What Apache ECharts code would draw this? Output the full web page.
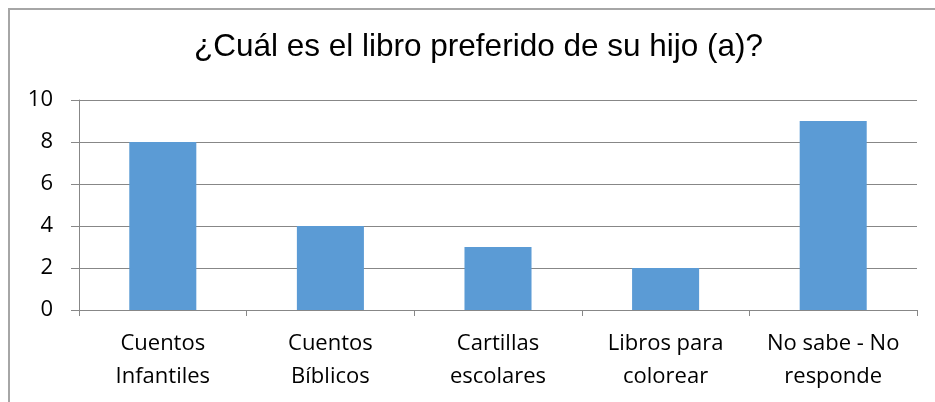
<!DOCTYPE html>
<html>
<head>
<meta charset="utf-8">
<script src="https://cdn.jsdelivr.net/npm/echarts@6/dist/echarts.min.js"></script>
<style>
  html, body { margin: 0; padding: 0; background: #fff; }
  #main { width: 935px; height: 402px; }
</style>
</head>
<body>
<div id="main"></div>
<script>
// datos del gráfico
var titulo = "¿Cuál es el libro preferido de su hijo (a)?";
var categorias = ["Cuentos\nInfantiles", "Cuentos\nBíblicos", "Cartillas\nescolares", "Libros para\ncolorear", "No sabe - No\nresponde"];
var valores = [8, 4, 3, 2, 9];
var ejeY = { min: 0, max: 10, interval: 2 };

var chart = echarts.init(document.getElementById("main"));

var option = {
  animation: false,
  title: {
    text: titulo,
    left: 189,
    top: 26,
    textStyle: {
      fontFamily: "Liberation Sans",
      fontSize: 31.5,
      fontWeight: "normal",
      color: "#000"
    }
  },
  graphic: [
    {
      // marco del gráfico
      type: "rect",
      shape: { x: 9, y: 9, width: 940, height: 420 },
      style: { fill: null, stroke: "#a6a6a6", lineWidth: 2 }
    }
  ],
  grid: { left: 79, right: 18, top: 100, bottom: 92 },
  xAxis: {
    type: "category",
    data: categorias,
    axisLine: { lineStyle: { color: "#878787", width: 1 } },
    axisTick: { show: true, alignWithLabel: false, length: 6, lineStyle: { color: "#878787" } },
    axisLabel: {
      color: "#000",
      fontFamily: "Open Sans",
      fontSize: 22,
      lineHeight: 33,
      margin: 17,
      interval: 0
    }
  },
  yAxis: {
    type: "value",
    min: ejeY.min,
    max: ejeY.max,
    interval: ejeY.interval,
    axisLine: { show: true, lineStyle: { color: "#878787", width: 1 } },
    axisTick: { show: true, length: 8, lineStyle: { color: "#878787" } },
    splitLine: { lineStyle: { color: "#878787", width: 1 } },
    axisLabel: {
      color: "#000",
      fontFamily: "Open Sans",
      fontSize: 22,
      margin: 26
    }
  },
  series: [
    {
      type: "bar",
      data: valores,
      barWidth: "40%",
      itemStyle: { color: "#5b9bd5" }
    }
  ]
};

chart.setOption(option);
</script>
</body>
</html>
